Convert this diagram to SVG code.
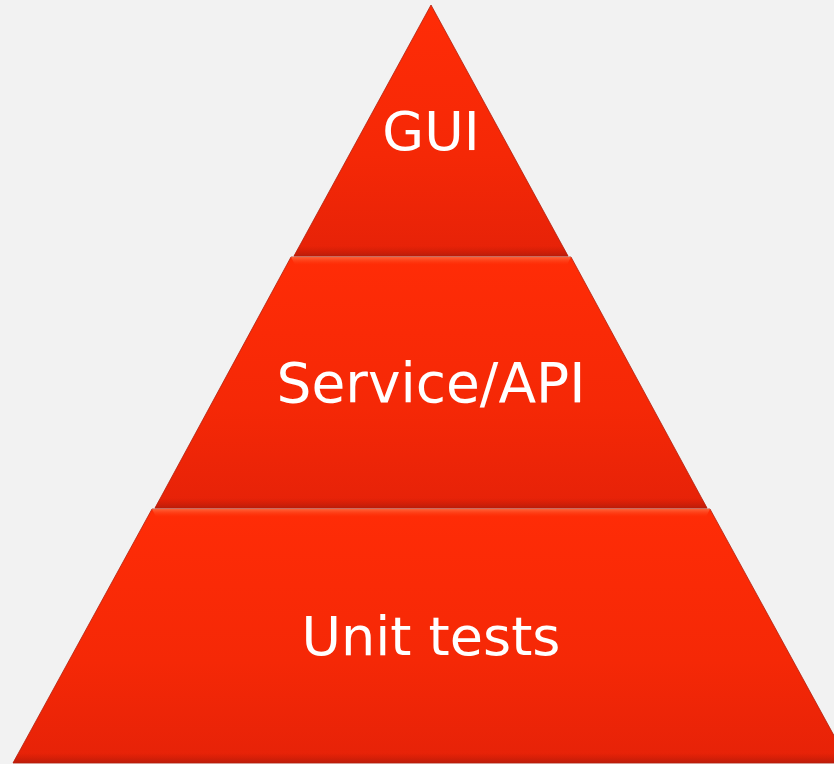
<svg xmlns="http://www.w3.org/2000/svg" width="834" height="764" viewBox="0 0 834 764">
<defs>
<linearGradient id="g" x1="0" y1="0" x2="0" y2="1">
<stop offset="0" stop-color="#ff2c06"/>
<stop offset="0.6" stop-color="#f52806"/>
<stop offset="1" stop-color="#e62208"/>
</linearGradient>
<linearGradient id="hi" x1="0" y1="0" x2="0" y2="1">
<stop offset="0" stop-color="#ff6a40" stop-opacity="0.9"/>
<stop offset="1" stop-color="#ff3a10" stop-opacity="0"/>
</linearGradient>
<linearGradient id="lo" x1="0" y1="0" x2="0" y2="1">
<stop offset="0" stop-color="#c81a04" stop-opacity="0"/>
<stop offset="1" stop-color="#b81c0a" stop-opacity="0.9"/>
</linearGradient>
</defs>
<style>
.seg{fill:url(#g);stroke:#b2200e;stroke-width:0.8}
.hi{fill:url(#hi)}
.lo{fill:url(#lo)}
.t{font-family:"DejaVu Sans",Verdana,sans-serif;font-size:54px;fill:#ffffff;text-anchor:middle}
</style>
<rect width="834" height="764" fill="#f2f2f2"/>
<g id="gui">
<polygon class="seg" points="431,5 568,256 294,256"/>
<polygon class="lo" points="299,246 563,246 568,256 294,256"/>
<text class="t" x="431" y="150">GUI</text>
</g>
<g id="service">
<polygon class="seg" points="291,257 571,257 707,508 155,508"/>
<polygon class="hi" points="291,257 571,257 567,265 295,265"/>
<polygon class="lo" points="160,498 702,498 707,508 155,508"/>
<text class="t" x="431" y="402" style="font-size:55px">Service/API</text>
</g>
<g id="unit">
<polygon class="seg" points="152,509 710,509 849,763 13,763"/>
<polygon class="hi" points="152,509 710,509 706,517 156,517"/>
<polygon class="lo" points="18,753 844,753 849,763 13,763"/>
<text class="t" x="431" y="655">Unit tests</text>
</g>
</svg>
